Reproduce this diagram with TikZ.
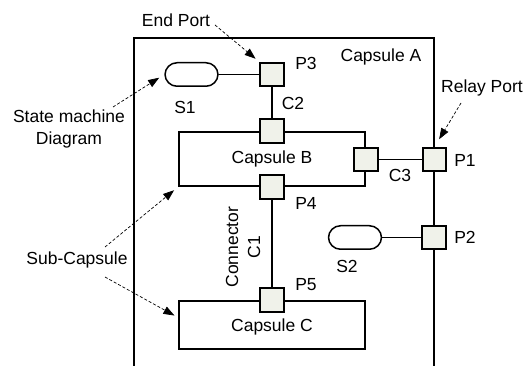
\documentclass[tikz,border=0pt]{standalone}
\usepackage{fontspec}
\setmainfont{Liberation Sans}
\usepackage{xcolor}
\usepackage{tikz}
\usetikzlibrary{arrows.meta, positioning, calc}
\definecolor{portfill}{HTML}{F0F2EA}

\begin{document}
\begin{tikzpicture}[x=1pt, y=-1pt, font=\fontsize{17.5}{22}\selectfont,
		port/.style={draw, line width=1.6pt, fill=portfill, minimum size=23.5pt, inner sep=0pt},
		capsule/.style={draw, line width=1.6pt, inner sep=0pt},
		statebox/.style={draw, line width=1.5pt, rounded corners=12pt, minimum width=53pt, minimum height=23.5pt, inner sep=0pt},
		lbl/.style={inner sep=0pt, align=center},
		thickwire/.style={line width=1.6pt},
		thinwire/.style={line width=1pt},
		note/.style={densely dashed, line width=0.7pt, -{Triangle[length=11pt, width=8pt]}}]
	\useasboundingbox (0,0) rectangle (525,366);
	\draw[line width=1.6pt] (134,366) -- (134,38) -- (434,38) -- (434,366);
	\node[lbl] (capAlbl) at (381,57) {Capsule A};
	\node[capsule, minimum width=186.5pt, minimum height=54.5pt] (capB) at (272,159) {Capsule B};
	\node[capsule, minimum width=186.5pt, minimum height=48.5pt] (capC) at (272,325) {};
	\node[lbl] (capClbl) at (272,327) {Capsule C};
	\node[statebox] (s1) at (191.5,74.5) {};
	\node[statebox] (s2) at (355,237.5) {};
	\foreach \name/\x/\y in {p3/272/74.5, pBt/272/131, p4/272/187, pBr/366/159.5, p1/434.5/159.5, p2/434/237.5, p5/272/300} {
		\node[port] (\name) at (\x,\y) {};
	}
	\foreach \name/\x/\y/\txt in {s1lbl/185/107/S1, s2lbl/347/266/S2, p3lbl/306/63/P3, p1lbl/465/160/P1, p2lbl/465/237/P2, p4lbl/306/203/P4, p5lbl/306/285/P5, c2lbl/293/103/C2, c3lbl/400/175/C3} {
		\node[lbl] (\name) at (\x,\y) {\txt};
	}
	\draw[thinwire] (s1.east) -- (p3.west);
	\draw[thinwire] (s2.east) -- (p2.west);
	\draw[thickwire] (p3.south) -- (pBt.north);
	\draw[thickwire] (pBr.east) -- (p1.west);
	\draw[thickwire] (p4.south) -- (p5.north);
	\node[lbl, rotate=90] (c1lbl) at (243,247) {Connector\\C1};
	\node[lbl] (endlbl) at (176,20) {End Port};
	\node[lbl] (relaylbl) at (482,88) {Relay Port};
	\node[lbl] (smlbl) at (69,129) {State machine\\Diagram};
	\node[lbl] (sublbl) at (77,260) {Sub-Capsule};
	\coordinate (endTail) at (215,25);
	\coordinate (relayTail) at (461,103);
	\coordinate (smTail) at (113,107);
	\coordinate (subTailB) at (105,247);
	\coordinate (subTailC) at (105,277);
	\coordinate (capCside) at ($(capC.north west)!0.35!(capC.south west)$);
	\draw[note, shorten >=5pt] (endTail) -- (p3.north west);
	\draw[note, shorten >=9pt] (relayTail) -- (p1.north);
	\draw[note, shorten >=6pt] (smTail) -- (s1.west);
	\draw[note, shorten >=5pt] (subTailB) -- (capB.south west);
	\draw[note, shorten >=4pt] (subTailC) -- (capCside);
\end{tikzpicture}
\end{document}
